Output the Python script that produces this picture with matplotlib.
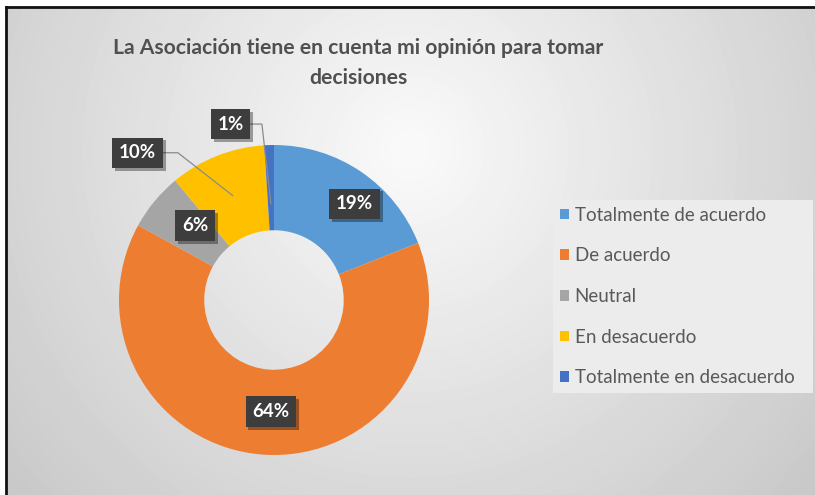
import numpy as np
import matplotlib
matplotlib.use("Agg")
import matplotlib.pyplot as plt
import matplotlib.patheffects as pe
from matplotlib.patches import Patch
from matplotlib.lines import Line2D

# data
categories = ["Totalmente de acuerdo", "De acuerdo", "Neutral",
              "En desacuerdo", "Totalmente en desacuerdo"]
values = [19, 64, 6, 10, 1]
colors = ["#5B9BD5", "#ED7D31", "#A5A5A5", "#FFC000", "#4472C4"]
title = "La Asociación tiene en cuenta mi opinión para tomar\ndecisiones"

W, H = 815, 495
fig = plt.figure(figsize=(W / 100, H / 100), dpi=100)
fig.patch.set_facecolor("white")

# background with radial gradient
bg = fig.add_axes([6 / W, 0, (W - 6) / W, (H - 8) / H])
yy, xx = np.mgrid[8:H, 6:W]
d = np.sqrt((xx - 410) ** 2 + (yy - 150) ** 2) / 530
shade = np.clip(250 - 50 * d, 195, 252) / 255
bg.imshow(shade, cmap="gray", vmin=0, vmax=1, aspect="auto",
          extent=[0, 1, 0, 1], interpolation="bilinear")
bg.axis("off")

# frame lines (top and left only, the rest is cropped)
fig.add_artist(Line2D([6 / W, 1], [1 - 7 / H, 1 - 7 / H], color="#111111", lw=2))
fig.add_artist(Line2D([6 / W, 6 / W], [0, 1 - 7 / H], color="#111111", lw=2))

# donut
cx, cy, R = 274, 300, 155
side = 340
ax = fig.add_axes([(cx - side / 2) / W, (H - cy - side / 2) / H, side / W, side / H])
lim = side / 2 / R
wedges, _ = ax.pie(values, colors=colors, startangle=90, counterclock=False,
                   radius=1, wedgeprops=dict(width=0.55, edgecolor="none"))
ax.set_xlim(-lim, lim)
ax.set_ylim(-lim, lim)
ax.set_aspect("equal")
ax.axis("off")

# label positions (data coords) and leader elbows
label_pos = [(0.52, 0.62), (-0.02, -0.72), (-0.51, 0.48), (-0.88, 0.95), (-0.28, 1.135)]
leader = [None, None, None, (-0.62, 0.95), (-0.078, 1.135)]
anchor_r = [None, None, None, 0.725, 0.62]

for i, (w, v) in enumerate(zip(wedges, values)):
    if leader[i] is not None:
        ang = np.deg2rad((w.theta1 + w.theta2) / 2)
        ax_, ay_ = anchor_r[i] * np.cos(ang), anchor_r[i] * np.sin(ang)
        ex, ey = leader[i]
        ax.plot([label_pos[i][0], ex, ax_], [label_pos[i][1], ey, ay_],
                color="#8a8a8a", lw=0.9, zorder=3, clip_on=False)
    t = ax.text(label_pos[i][0], label_pos[i][1], f"{v}%", ha="center", va="center",
                color="white", fontsize=13.5, fontweight="bold", family="Lato",
                zorder=5,
                bbox=dict(boxstyle="square,pad=0.36", facecolor="#3d3d3d",
                          edgecolor="none"))
    t.get_bbox_patch().set_path_effects([
        pe.SimplePatchShadow(offset=(2, -2), shadow_rgbFace="black", alpha=0.35),
        pe.Normal()])

# title
fig.text(358 / W, 1 - 63 / H, title, ha="center", va="center", fontsize=15.2,
         fontweight="bold", color="#505050", family="Lato", linespacing=1.65)

# legend
handles = [Patch(facecolor=c, edgecolor="none") for c in colors]
leg = fig.legend(handles, categories, loc="upper left", mode="expand",
                 bbox_to_anchor=(553 / W, 1 - 393 / H, 260 / W, 193 / H),
                 frameon=True, fancybox=False, facecolor="#ececec",
                 edgecolor="none", framealpha=1,
                 handlelength=0.5, handleheight=0.5, handletextpad=0.3,
                 labelspacing=1.26, borderpad=0.36, borderaxespad=0,
                 prop=dict(family="Lato", size=13.5))
for txt in leg.get_texts():
    txt.set_color("#595959")

fig.savefig("out.png", dpi=100)
